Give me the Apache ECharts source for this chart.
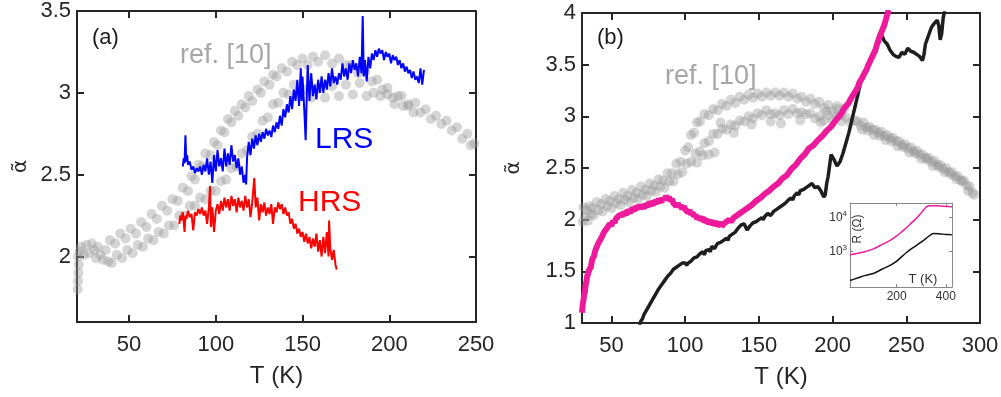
<!DOCTYPE html>
<html><head><meta charset="utf-8">
<script src="https://cdn.jsdelivr.net/npm/echarts@6/dist/echarts.min.js"></script>
<style>html,body{margin:0;padding:0;background:#fff}#c{width:1001px;height:397px}</style>
</head><body><div id="c"></div>
<script>
// ---------- Panel (a) ----------
const lrsA = [[81,2.55],[81.5,2.6],[82,2.57],[82.5,2.74],[83,2.58],[83.5,2.62],[84,2.56],[85,2.58],[86,2.53],[87,2.55],[88,2.51],[89,2.54],[90,2.52],[91,2.55],[92,2.5],[93,2.56],[94,2.52],[95,2.6],[96,2.5],[97,2.58],[98,2.45],[99,2.62],[100,2.52],[101,2.65],[102,2.55],[103,2.6],[104,2.52],[105,2.66],[106,2.55],[107,2.63],[108,2.56],[109,2.68],[110,2.58],[111,2.62],[112,2.54],[113,2.6],[114,2.5],[115,2.55],[116,2.45],[117,2.5],[117.5,2.44],[118,2.6],[119,2.7],[120,2.62],[121,2.72],[122,2.66],[123,2.74],[124,2.68],[125,2.75],[126,2.7],[127,2.76],[128,2.72],[129,2.78],[130,2.74],[131,2.77],[132,2.73],[133,2.8],[134,2.76],[135,2.82],[136,2.78],[137,2.86],[138,2.8],[139,2.9],[140,2.85],[141,2.93],[142,2.88],[143,2.98],[144,2.9],[145,3.02],[146,2.95],[147,3.08],[148,2.92],[149,3.15],[149.5,2.95],[150,3.1],[151,2.9],[151.8,2.71],[152.5,3.0],[153,3.17],[154,2.95],[155,3.12],[156,2.98],[157,3.05],[158,2.96],[159,3.08],[160,3.0],[161,3.1],[162,3.0],[163,3.08],[164,3.02],[165,3.12],[166,3.04],[167,3.15],[168,3.06],[169,3.1],[170,3.05],[171,3.12],[172,3.08],[173,3.18],[174,3.1],[175,3.15],[176,3.08],[177,3.18],[178,3.12],[179,3.2],[180,3.14],[181,3.18],[182,3.1],[183,3.22],[184,3.12],[184.7,3.47],[185.3,3.1],[186,3.2],[187,3.07],[188,3.22],[189,3.15],[190,3.24],[191,3.2],[192,3.26],[193,3.22],[194,3.27],[195,3.24],[196,3.26],[197,3.2],[198,3.25],[199,3.22],[200,3.24],[201,3.18],[202,3.23],[203,3.2],[204,3.22],[205,3.17],[206,3.2],[207,3.15],[208,3.18],[209,3.13],[210,3.16],[211,3.12],[212,3.14],[213,3.09],[214,3.13],[215,3.08],[216,3.1],[217,3.06],[218,3.15],[219,3.05],[220,3.14]];
const hrsA = [[79,2.2],[79.5,2.25],[80,2.22],[81,2.27],[82,2.15],[82.5,2.25],[83,2.23],[84,2.28],[85,2.24],[86,2.26],[87,2.16],[88,2.27],[89,2.25],[90,2.29],[91,2.26],[92,2.3],[93,2.25],[94,2.28],[95,2.2],[96,2.3],[96.7,2.43],[97.2,2.18],[98,2.3],[99,2.15],[100,2.28],[101,2.32],[102,2.26],[103,2.34],[104,2.28],[105,2.36],[106,2.3],[107,2.35],[108,2.28],[109,2.37],[110,2.31],[111,2.35],[112,2.27],[113,2.36],[114,2.3],[115,2.34],[116,2.28],[117,2.37],[118,2.3],[119,2.35],[120,2.24],[121,2.33],[122.2,2.48],[123,2.3],[124,2.36],[125,2.22],[126,2.32],[127,2.27],[128,2.33],[129,2.25],[130,2.3],[131,2.26],[132,2.32],[133,2.2],[134,2.3],[135,2.27],[136,2.33],[137,2.29],[138,2.32],[139,2.26],[140,2.3],[141,2.25],[142,2.27],[143,2.2],[144,2.23],[145,2.17],[146,2.2],[147,2.14],[148,2.17],[149,2.12],[150,2.15],[151,2.09],[152,2.14],[153,2.08],[154,2.12],[155,2.05],[156,2.11],[157,2.06],[158,2.14],[159,2.03],[160,2.1],[161,2.0],[162,2.12],[163,2.02],[164,2.15],[165,2.0],[165.3,2.22],[166,2.05],[167,1.98],[168,2.04],[169,1.95],[169.7,1.92]];
const refA = [[20.4,1.80],[20.6,1.85],[20.8,1.90],[21.0,1.95],[20.7,2.00],[21.5,2.03],[22.5,2.06],[24,2.01],[25.5,2.07],[27,2.02],[28.5,2.08],[30,2.04],[31,1.99],[32,2.06],[33.5,2.01],[35,1.98],[36.5,2.04],[38,1.97],
 [39,2.1],[42,2.08],[45,2.14],[48,2.11],[51,2.17],[54,2.14],[57,2.21],[60,2.18],[63,2.26],[66,2.23],[69,2.31],[72,2.28],[75,2.35],[78,2.34],[81,2.42],[84,2.4],[86,2.49],[88,2.47],[90,2.56],[92,2.55],[94,2.63],[97,2.62],[99,2.7],[101,2.68],[103,2.77],[105,2.76],[107,2.84],[109,2.82],[111,2.89],[113,2.86],[115,2.93],[117,2.91],[119,2.98],[121,2.95],[124,3.02],[126,3.0],[128,3.07],[131,3.05],[133,3.11],[135,3.1],[138,3.15],[141,3.13],[144,3.19],[147,3.17],[150,3.21],[153,3.17],[156,3.22],[159,3.19],[163,3.23],[167,3.18],[171,3.21],[175,3.17],[178,3.17],[182,3.12],[186,3.13],[190,3.07],[193,3.08],[196,3.02],[199,3.03],[202,2.97],[205,2.98],[208,2.92],[211,2.93],[214,2.88],
 [40,1.96],[43,2.01],[46,1.99],[49,2.04],[52,2.02],[55,2.07],[58,2.06],[61,2.11],[64,2.1],[67,2.15],[70,2.14],[73,2.19],[76,2.19],[79,2.25],[82,2.25],[85,2.31],[88,2.31],[91,2.36],[94,2.35],[97,2.4],[100,2.4],[103,2.46],[106,2.47],[109,2.54],[112,2.55],[115,2.63],[118,2.65],[121,2.73],[124,2.75],[127,2.83],[130,2.85],[133,2.93],[136,2.94],[139,3.0],[142,2.99],[145,3.05],[148,3.0],[151,3.02],[155,2.97],[159,3.03],[163,2.97],[167,3.04],[171,2.98],[175,3.05],[179,2.99],[183,3.06],[187,2.98],[191,3.0],[195,2.98],[199,2.99],[203,2.93],[207,2.98],[211,2.92],[215,2.94],[218,2.88],[221,2.9],[224,2.84],[227,2.86],[230,2.81],[233,2.83],[236,2.77],[239,2.79],[242,2.72],[245,2.75],[247,2.68],[249,2.69]];
// ---------- Panel (b) ----------
const pinkB = [[30,1.1],[30.5,1.18],[31,1.22],[31.5,1.28],[32,1.3],[32.5,1.37],[33,1.4],[33.5,1.45],[34,1.44],[35,1.52],[36,1.54],[37,1.62],[38,1.64],[39,1.7],[40,1.71],[41,1.77],[42,1.76],[43,1.82],[44,1.83],[45,1.88],[46,1.87],[47,1.92],[48,1.91],[49,1.96],[50,1.94],[51,1.99],[52,1.97],[53,2.01],[54,2.0],[56,2.05],[57,2.03],[58,2.07],[60,2.05],[61,2.09],[63,2.07],[64,2.11],[66,2.09],[67,2.13],[69,2.11],[70,2.14],[72,2.11],[73,2.15],[75,2.13],[76,2.17],[78,2.14],[79,2.18],[81,2.16],[82,2.2],[84,2.17],[85,2.21],[86,2.19],[87,2.23],[88,2.2],[89,2.22],[90,2.18],[91,2.2],[92,2.16],[93,2.17],[94,2.13],[95,2.16],[96,2.12],[97,2.14],[98,2.1],[99,2.13],[100,2.1],[101,2.11],[102,2.07],[103,2.09],[104,2.05],[105,2.07],[106,2.03],[107,2.05],[108,2.01],[109,2.03],[110,2.0],[112,2.02],[113,1.98],[115,2.0],[116,1.96],[118,1.99],[119,1.95],[121,1.98],[122,1.94],[124,1.97],[125,1.94],[127,1.97],[128,1.96],[130,2.0],[131,1.98],[133,2.02],[134,2.01],[136,2.05],[137,2.04],[139,2.08],[140,2.07],[142,2.11],[143,2.1],[145,2.14],[146,2.13],[148,2.18],[149,2.17],[151,2.21],[152,2.2],[154,2.25],[155,2.24],[157,2.28],[158,2.27],[160,2.32],[161,2.31],[163,2.35],[164,2.35],[166,2.4],[167,2.39],[169,2.43],[170,2.44],[172,2.49],[173,2.48],[175,2.53],[176,2.53],[178,2.59],[179,2.58],[181,2.63],[182,2.63],[184,2.69],[185,2.68],[187,2.72],[188,2.73],[190,2.77],[191,2.77],[193,2.81],[194,2.82],[196,2.86],[197,2.86],[199,2.9],[200,2.91],[202,2.96],[203,2.97],[205,3.01],[206,3.03],[208,3.08],[209,3.09],[211,3.13],[212,3.16],[214,3.21],[215,3.23],[217,3.28],[218,3.32],[220,3.37],[221,3.4],[223,3.45],[224,3.49],[226,3.55],[227,3.58],[229,3.64],[230,3.69],[232,3.77],[233,3.81],[235,3.88],[236,3.93],[238,4.03]];
const blackB = [[69,0.98],[70,1.02],[71,1.04],[72,1.08],[73,1.09],[74,1.13],[76,1.18],[77,1.19],[78,1.23],[80,1.28],[81,1.29],[82,1.33],[84,1.37],[85,1.37],[86,1.41],[88,1.45],[89,1.45],[90,1.48],[92,1.52],[93,1.51],[94,1.54],[96,1.56],[97,1.55],[98,1.58],[100,1.58],[101,1.56],[102,1.58],[104,1.6],[105,1.59],[106,1.63],[108,1.64],[109,1.63],[110,1.67],[112,1.69],[113,1.66],[114,1.7],[116,1.71],[117,1.69],[118,1.74],[120,1.72],[121,1.75],[122,1.77],[124,1.78],[125,1.77],[126,1.8],[128,1.82],[129,1.8],[130,1.84],[132,1.86],[133,1.85],[134,1.88],[136,1.92],[137,1.91],[138,1.95],[140,1.96],[141,1.93],[142,1.9],[144,1.94],[145,1.93],[146,1.97],[148,1.98],[149,1.97],[150,2.0],[152,2.02],[153,2.0],[154,2.03],[156,2.06],[157,2.05],[158,2.04],[160,2.08],[161,2.07],[162,2.1],[164,2.12],[165,2.11],[166,2.14],[168,2.16],[169,2.15],[170,2.19],[172,2.21],[173,2.19],[174,2.23],[176,2.26],[177,2.24],[178,2.28],[180,2.29],[181,2.28],[182,2.31],[184,2.33],[185,2.32],[186,2.35],[188,2.31],[190,2.32],[192,2.28],[194,2.22],[195,2.24],[196,2.35],[197,2.42],[199,2.63],[201,2.58],[203,2.52],[205,2.56],[207,2.64],[209,2.74],[211,2.84],[213,2.96],[215,3.08],[217,3.2],[219,3.33],[221,3.42],[223,3.46],[225,3.52],[227,3.6],[229,3.66],[231,3.76],[232,3.8],[233.5,3.78],[235,3.73],[237,3.7],[239,3.64],[241,3.6],[243,3.58],[245,3.57],[247,3.62],[249,3.6],[251,3.66],[253,3.63],[255,3.62],[257,3.6],[259,3.58],[261,3.54],[262,3.6],[263,3.7],[265,3.78],[267,3.86],[269,3.9],[271,3.93],[272,3.88],[273,3.74],[274,3.8],[275,3.95],[276,4.02]];
const refB = [[31,2.12],[33,2.09],[35,2.13],[37,2.11],[40,2.17],[43,2.15],[46,2.2],[49,2.18],[52,2.23],[55,2.2],[58,2.26],[61,2.23],[64,2.29],[67,2.26],[70,2.32],[73,2.29],[76,2.35],[79,2.33],[82,2.39],[85,2.38],[88,2.45],[91,2.45],[94,2.54],[97,2.56],[100,2.67],[102,2.7],[104,2.82],[106,2.84],[108,2.94],[110,2.95],[113,3.02],[116,3.01],[119,3.07],[122,3.06],[125,3.12],[128,3.1],[131,3.16],[134,3.13],[137,3.19],[140,3.16],[143,3.21],[146,3.18],[149,3.22],[152,3.19],[155,3.23],[158,3.2],[161,3.23],[164,3.2],[167,3.23],[170,3.19],[173,3.22],[176,3.17],[179,3.19],[182,3.14],[185,3.17],[188,3.12],[191,3.14],[194,3.08],[197,3.11],[200,3.05],[203,3.07],[206,3.01],
 [30.5,1.98],[32,2.03],[34,1.99],[36,2.05],[38,2.04],[41,2.09],[44,2.08],[47,2.13],[50,2.11],[53,2.16],[56,2.14],[59,2.19],[62,2.17],[65,2.21],[68,2.2],[71,2.24],[74,2.23],[77,2.28],[80,2.27],[83,2.32],[86,2.31],[89,2.37],[92,2.37],[95,2.44],[98,2.46],[101,2.54],[104,2.56],[107,2.64],[110,2.66],[113,2.74],[116,2.76],[119,2.83],[122,2.83],[125,2.88],[128,2.87],[131,2.92],[134,2.91],[137,2.96],[140,2.95],[143,3.0],[146,2.98],[149,3.03],[152,3.01],[155,3.06],[158,3.02],[161,3.03],[164,3.01],[167,3.06],[170,3.02],[173,3.07],[176,3.03],[179,3.04],[182,3.02],[185,3.03],[188,2.98],[191,3.0],[194,2.96],[197,3.01],[200,2.96],[203,3.0],[206,2.95],[209,2.99],[212,2.94],[215,2.96],
 [108,2.55],[112,2.62],[116,2.63],[120,2.65],[124,2.94],[133,2.84],[145,2.92],[158,2.95],[165,2.93],[178,2.96],[192,2.94],[196,3.05],[203,3.1],[208,3.08],
 [217,2.95],[219,2.91],[221,2.94],[223,2.89],[225,2.9],[227,2.87],[229,2.87],[231,2.84],[233,2.85],[235,2.81],[237,2.82],[239,2.79],[241,2.79],[243,2.76],[245,2.76],[247,2.72],[249,2.73],[251,2.69],[253,2.7],[255,2.66],[257,2.67],[259,2.63],[261,2.63],[263,2.6],[265,2.6],[267,2.56],[269,2.57],[271,2.53],[273,2.53],[275,2.49],[277,2.5],[279,2.46],[281,2.46],[283,2.42],[285,2.42],[287,2.38],[289,2.38],[291,2.33],[293,2.32],[295,2.26],[296,2.24],
 [220,2.87],[224,2.86],[228,2.82],[232,2.81],[236,2.77],[240,2.76],[244,2.71],[248,2.7],[252,2.65],[256,2.64],[260,2.59],[264,2.58],[268,2.52],[272,2.51],[276,2.46],[280,2.44],[284,2.39],[288,2.37],[292,2.28]];
// ---------- Inset (R vs T) ----------
const insetPink = [[10,800],[40,880],[70,980],[105,1200],[140,1600],[172,2100],[200,2900],[220,3800],[241,5100],[260,7000],[280,9500],[295,12500],[310,17000],[322,21000],[335,22500],[360,22300],[390,21800],[425,20800]];
const insetBlack = [[10,140],[40,165],[70,195],[105,225],[140,300],[173,390],[200,520],[241,950],[270,1350],[308,2100],[330,2800],[349,3400],[370,3350],[400,3200],[425,3100]];
// ---------- Ticks ----------
const xTicksA = [50,100,150,200,250];
const yTicksA = [2,2.5,3,3.5];
const xTicksB = [50,100,150,200,250,300];
const yTicksB = [1,1.5,2,2.5,3,3.5,4];
const xTicksIn = [200,400];
const yTicksIn = [1000,10000];

const FONT = "'Liberation Sans', Arial, Helvetica, sans-serif";
const AX = '#262626';

function xAx(grid, min, max, ticks, top, opts) {
  opts = opts || {};
  return {
    type: 'value', gridIndex: grid, min: min, max: max, position: top ? 'top' : 'bottom',
    name: top ? '' : (opts.name || ''), nameLocation: 'middle', nameGap: opts.nameGap || 40,
    nameTextStyle: {fontFamily: FONT, fontSize: opts.nameSize || 24, color: AX},
    splitLine: {show: false},
    axisLine: {show: true, onZero: false, lineStyle: {color: opts.lineColor || AX, width: opts.lw || 2}},
    axisTick: {show: true, inside: true, length: opts.tl || 7, customValues: ticks, lineStyle: {color: opts.lineColor || AX, width: opts.lw || 2}},
    axisLabel: {show: !top, customValues: ticks, margin: opts.margin || 12, fontFamily: FONT, fontSize: opts.fs || 22, color: opts.labelColor || AX, formatter: opts.fmt}
  };
}
function yAx(grid, min, max, ticks, right, opts) {
  opts = opts || {};
  return {
    type: opts.type || 'value', gridIndex: grid, min: min, max: max, position: right ? 'right' : 'left',
    logBase: 10,
    name: right ? '' : (opts.name || ''), nameLocation: 'middle', nameGap: opts.nameGap || 44, nameRotate: 90,
    nameTextStyle: {fontFamily: "'DejaVu Sans', sans-serif", fontSize: opts.nameSize || 20, color: AX},
    splitLine: {show: false},
    axisLine: {show: true, onZero: false, lineStyle: {color: opts.lineColor || AX, width: opts.lw || 2}},
    axisTick: {show: true, inside: true, length: opts.tl || 7, customValues: ticks, lineStyle: {color: opts.lineColor || AX, width: opts.lw || 2}},
    axisLabel: {show: !right, customValues: ticks, margin: opts.margin || 6, fontFamily: FONT, fontSize: opts.fs || 22, color: opts.labelColor || AX, formatter: opts.fmt, rich: opts.rich}
  };
}

const chart = echarts.init(document.getElementById('c'), null, {renderer: 'canvas'});
const supRich = {s: {fontSize: 8, fontFamily: FONT, color: '#333', verticalAlign: 'top', padding: [0, 0, 7, 0]}};
const ALPHA = '\u1FB6';
const option = {
  backgroundColor: '#fff',
  animation: false,
  grid: [
    {left: 77, top: 11, width: 399, height: 311, containLabel: false, outerBoundsMode: 'none'},
    {left: 582, top: 13, width: 398, height: 310, containLabel: false, outerBoundsMode: 'none'},
    {left: 850, top: 203, width: 102, height: 84, containLabel: false, outerBoundsMode: 'none', show: true, backgroundColor: '#fff', borderWidth: 0, z: 5}
  ],
  xAxis: [
    xAx(0, 20, 250, xTicksA, false, {name: 'T (K)', nameGap: 42}),
    xAx(0, 20, 250, xTicksA, true),
    xAx(1, 30, 300, xTicksB, false, {name: 'T (K)', nameGap: 42}),
    xAx(1, 30, 300, xTicksB, true),
    Object.assign(xAx(2, 10, 425, xTicksIn, false, {lineColor: '#888', lw: 1, tl: 3, fs: 12, margin: 4, labelColor: '#333'}), {z: 6}),
    Object.assign(xAx(2, 10, 425, xTicksIn, true, {lineColor: '#888', lw: 1, tl: 3}), {z: 6})
  ],
  yAxis: [
    yAx(0, 1.6, 3.5, yTicksA, false, {name: ALPHA, nameGap: 46}),
    yAx(0, 1.6, 3.5, yTicksA, true),
    yAx(1, 1, 4, yTicksB, false, {name: ALPHA, nameGap: 58}),
    yAx(1, 1, 4, yTicksB, true),
    Object.assign(yAx(2, 90, 27000, yTicksIn, false, {type: 'log', lineColor: '#888', lw: 1, tl: 3, fs: 12, margin: 3, labelColor: '#333',
      fmt: v => '10{s|' + Math.round(Math.log10(v)) + '}', rich: supRich}), {z: 6}),
    Object.assign(yAx(2, 90, 27000, yTicksIn, true, {type: 'log', lineColor: '#888', lw: 1, tl: 3}), {z: 6})
  ],
  series: [
    {type: 'scatter', xAxisIndex: 0, yAxisIndex: 0, data: refA, symbolSize: 10, itemStyle: {color: 'rgba(150,150,150,0.5)'}, z: 1, silent: true},
    {type: 'line', xAxisIndex: 0, yAxisIndex: 0, data: hrsA, showSymbol: false, lineStyle: {color: '#ff0000', width: 2}, z: 3},
    {type: 'line', xAxisIndex: 0, yAxisIndex: 0, data: lrsA, showSymbol: false, lineStyle: {color: '#0000ff', width: 2}, z: 3},
    {type: 'scatter', xAxisIndex: 2, yAxisIndex: 2, data: refB, symbolSize: 10, itemStyle: {color: 'rgba(150,150,150,0.5)'}, z: 1, silent: true},
    {type: 'line', xAxisIndex: 2, yAxisIndex: 2, data: blackB, showSymbol: false, lineStyle: {color: '#1e1e1e', width: 3.5}, z: 3},
    {type: 'line', xAxisIndex: 2, yAxisIndex: 2, data: pinkB, showSymbol: false, lineStyle: {color: '#ee1a9c', width: 6}, z: 3},
    {type: 'line', xAxisIndex: 4, yAxisIndex: 4, data: insetPink, showSymbol: false, smooth: 0.3, lineStyle: {color: '#ee1a9c', width: 1.5}, z: 7},
    {type: 'line', xAxisIndex: 4, yAxisIndex: 4, data: insetBlack, showSymbol: false, smooth: 0.3, lineStyle: {color: '#111', width: 1.5}, z: 7}
  ],
  graphic: [
    {type: 'text', x: 92, y: 38, z: 10, style: {text: '(a)', fontSize: 22, fontFamily: FONT, fill: '#1a1a1a', align: 'left', verticalAlign: 'middle'}},
    {type: 'text', x: 180, y: 56, z: 10, style: {text: 'ref. [10]', fontSize: 27, fontFamily: FONT, fill: '#a6a6a6', align: 'left', verticalAlign: 'middle'}},
    {type: 'text', x: 315, y: 140, z: 10, style: {text: 'LRS', fontSize: 30, fontFamily: FONT, fill: '#0000ff', align: 'left', verticalAlign: 'middle'}},
    {type: 'text', x: 298, y: 203, z: 10, style: {text: 'HRS', fontSize: 30, fontFamily: FONT, fill: '#ff0000', align: 'left', verticalAlign: 'middle'}},
    {type: 'text', x: 597, y: 38, z: 10, style: {text: '(b)', fontSize: 22, fontFamily: FONT, fill: '#1a1a1a', align: 'left', verticalAlign: 'middle'}},
    {type: 'text', x: 665, y: 77, z: 10, style: {text: 'ref. [10]', fontSize: 27, fontFamily: FONT, fill: '#a6a6a6', align: 'left', verticalAlign: 'middle'}},
    {type: 'text', x: 858, y: 229, rotation: Math.PI / 2, z: 10, style: {text: 'R (Ω)', fontSize: 12, fontFamily: FONT, fill: '#333', align: 'center', verticalAlign: 'middle'}},
    {type: 'text', x: 923, y: 279, z: 10, style: {text: 'T (K)', fontSize: 13, fontFamily: FONT, fill: '#333', align: 'center', verticalAlign: 'middle'}}
  ]
};
chart.setOption(option);
</script></body></html>
